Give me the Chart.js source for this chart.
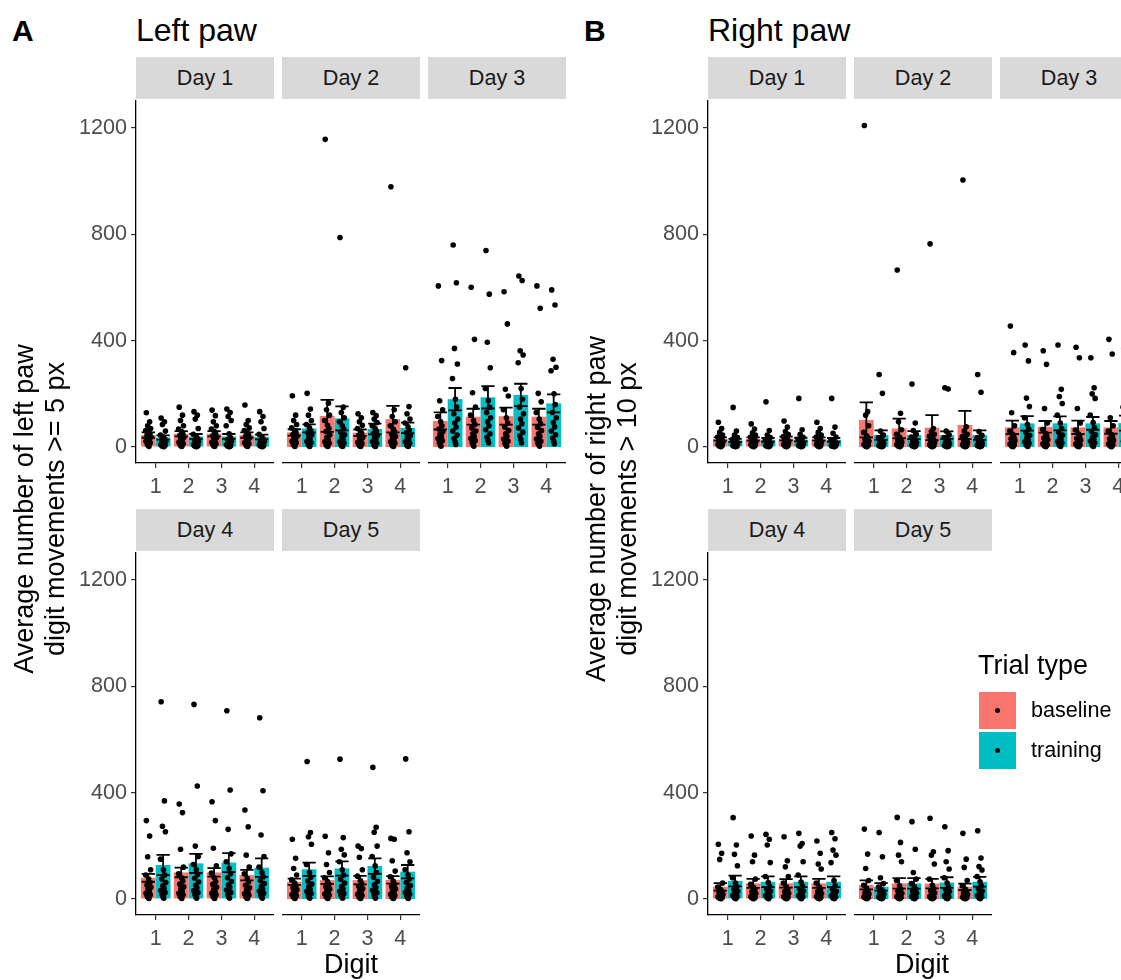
<!DOCTYPE html>
<html>
<head>
<meta charset="utf-8">
<script src="https://cdn.jsdelivr.net/npm/chart.js@4"></script>
<style>
  body { margin: 0; background: #fff; font-family: "Liberation Sans", Arial, sans-serif; }
  #page { position: relative; width: 1121px; height: 980px; overflow: hidden; background: #fff; }
  .t { position: absolute; white-space: nowrap; color: #000; }
  .strip { position: absolute; background: #d9d9d9; color: #1a1a1a; font-size: 21.6px; text-align: center; height: 42px; line-height: 42px; }
  canvas { position: absolute; }
</style>
</head>
<body>
<div id="page"></div>
<script>
const days = ['Day 1', 'Day 2', 'Day 3', 'Day 4', 'Day 5'];
const digits = [1, 2, 3, 4];
const trialTypes = ['baseline', 'training'];
const yTicks = [0, 400, 800, 1200];

// bar heights (mean) and error half-widths, [day][digit]
const leftBaseMean  = [[45,50,50,45],[55,117,54,105],[98,114,116,114],[80,100,100,90],[65,71,71,72]];
const leftTrainMean = [[36,40,40,38],[70,108,68,72],[180,187,196,164],[128,134,137,118],[112,115,124,103]];
const leftBaseErr   = [[10,10,10,10],[12,60,12,50],[32,30,32,30],[15,18,16,20],[12,14,16,14]];
const leftTrainErr  = [[8,9,9,9],[15,45,20,20],[42,42,42,34],[38,36,36,35],[25,27,29,25]];

const rightBaseMean  = [[30,30,32,30],[102,70,73,83],[74,76,74,74],[46,59,59,59],[53,59,58,46]];
const rightTrainMean = [[25,27,28,27],[45,45,45,45],[89,89,89,90],[68,65,65,65],[46,59,62,65]];
const rightBaseErr   = [[6,6,7,6],[66,37,47,53],[25,22,25,24],[14,17,16,17],[17,20,18,12]];
const rightTrainErr  = [[6,7,7,7],[18,15,14,18],[27,26,24,28],[20,20,20,20],[14,20,20,18]];

// individual animals, [day][digit][animal]
const leftBasePts = [
  [[129,95,80,70,62,55,50,44,38,33,28,22,16,10,6,2],
   [150,120,100,80,68,58,50,44,36,30,24,18,12,8,4,2],
   [139,118,95,80,68,58,50,42,36,30,24,18,12,8,4,2],
   [158,100,85,72,62,54,46,40,34,28,22,16,12,8,4,2]],
  [[193,120,100,85,72,62,55,48,40,34,28,22,16,10,5,2],
   [1157,165,140,120,100,82,70,58,46,36,28,20,14,8,4,2],
   [125,110,95,82,70,60,52,44,36,30,24,18,12,8,4,2],
   [979,140,115,95,80,68,58,48,40,32,26,20,14,8,4,2]],
  [[606,325,174,140,115,95,80,68,58,48,40,32,24,16,8,3],
   [601,405,204,150,120,100,85,72,60,50,40,32,24,16,8,3],
   [584,463,217,192,140,110,90,75,62,50,40,30,22,14,8,3],
   [606,522,202,170,130,105,88,74,62,50,40,30,22,14,8,3]],
  [[295,237,159,110,90,75,62,52,44,36,28,22,16,10,5,2],
   [357,325,187,120,95,80,68,56,46,38,30,22,16,10,5,2],
   [366,295,191,125,98,80,66,55,45,36,28,22,16,10,5,2],
   [335,272,165,120,95,78,64,52,42,34,26,20,14,8,4,2]],
  [[225,153,115,90,72,60,50,42,35,28,22,17,12,8,4,2],
   [236,174,130,100,80,66,55,46,38,31,25,19,14,9,5,2],
   [199,190,157,110,86,70,58,48,39,31,24,18,13,8,4,2],
   [228,225,144,105,84,68,56,46,38,30,24,18,13,8,4,2]]
];
const leftTrainPts = [
  [[109,95,85,60,45,38,30,25,20,16,12,9,6,4,2,1],
   [133,120,105,70,48,40,32,26,20,15,11,8,5,3,2,1],
   [143,130,115,100,80,50,36,28,22,16,12,8,5,3,2,1],
   [133,115,95,70,48,38,30,24,20,15,11,8,5,3,2,1]],
  [[202,143,120,100,85,72,62,54,46,38,30,22,16,10,5,2],
   [788,150,130,110,95,80,68,56,46,36,28,20,14,8,4,2],
   [130,118,105,92,80,70,60,52,44,36,28,20,14,8,4,2],
   [298,152,125,105,90,76,64,54,44,36,28,20,14,8,4,2]],
  [[760,618,371,312,258,180,150,125,105,90,75,60,45,32,20,10],
   [739,575,394,298,220,175,150,130,110,95,80,65,50,38,25,15],
   [643,626,362,346,317,220,180,150,125,105,88,72,56,42,28,15],
   [591,534,330,300,287,200,160,130,110,92,76,60,46,34,22,12]],
  [[742,369,274,253,150,110,90,75,62,50,40,32,24,16,8,3],
   [732,425,199,160,130,110,92,78,64,52,42,32,24,16,8,3],
   [708,410,262,170,140,115,95,80,66,54,44,34,25,16,8,3],
   [682,407,241,160,120,100,84,70,58,48,38,30,22,14,7,3]],
  [[517,250,234,206,130,100,82,68,56,46,37,29,21,14,7,3],
   [526,231,187,166,140,110,90,74,60,48,38,29,21,14,7,3],
   [495,270,251,199,160,125,100,82,67,54,43,33,24,16,8,3],
   [527,253,174,140,110,90,75,62,51,41,33,25,18,12,6,2]]
];
const rightBasePts = [
  [[93,70,55,45,38,32,27,23,19,15,12,9,6,4,2,1],
   [87,68,54,45,38,32,27,23,19,15,12,9,6,4,2,1],
   [98,75,58,47,39,33,28,23,19,15,12,9,6,4,2,1],
   [93,70,55,45,38,32,27,23,19,15,12,9,6,4,2,1]],
  [[1209,133,120,80,55,42,34,28,22,17,13,10,7,4,2,1],
   [666,127,95,65,48,38,30,24,19,15,12,9,6,4,2,1],
   [764,70,58,48,40,33,27,22,18,14,11,8,6,4,2,1],
   [1004,76,60,48,39,32,26,21,17,13,10,8,5,3,2,1]],
  [[455,355,129,80,60,48,38,31,25,20,15,11,8,5,3,1],
   [362,311,145,90,66,52,42,34,27,21,16,12,8,5,3,1],
   [375,336,145,90,64,50,40,32,26,20,15,11,8,5,3,1],
   [405,350,110,80,60,48,38,31,25,20,15,11,8,5,3,1]],
  [[206,172,149,60,45,36,29,23,18,14,11,8,6,4,2,1],
   [237,165,140,75,55,43,34,27,21,16,12,9,6,4,2,1],
   [234,144,121,85,60,46,36,28,22,17,13,9,6,4,2,1],
   [218,172,132,113,60,45,35,27,21,16,12,9,6,4,2,1]],
  [[263,169,115,70,52,40,31,24,19,15,11,8,6,4,2,1],
   [307,213,165,140,70,50,38,29,22,17,13,9,6,4,2,1],
   [304,178,165,132,75,52,39,30,23,17,13,9,6,4,2,1],
   [247,150,119,70,50,38,29,22,17,13,10,7,5,3,2,1]]
];
const rightTrainPts = [
  [[149,60,45,36,29,24,20,16,13,10,8,6,4,3,2,1],
   [170,62,45,36,28,23,19,15,12,10,8,6,4,3,2,1],
   [183,65,48,37,29,23,19,15,12,10,8,6,4,3,2,1],
   [183,75,52,38,28,22,18,14,11,9,7,5,4,3,2,1]],
  [[273,202,60,45,36,29,23,18,14,11,8,6,4,3,2,1],
   [237,90,62,48,38,31,25,20,16,12,9,7,5,3,2,1],
   [223,218,60,46,36,29,23,18,14,11,8,6,4,3,2,1],
   [273,206,58,44,35,28,22,17,13,10,8,6,4,3,2,1]],
  [[384,324,184,152,110,85,68,55,44,35,27,20,14,9,5,2],
   [384,217,190,164,120,90,70,56,45,36,28,21,15,9,5,2],
   [336,223,200,183,120,92,72,58,46,37,29,22,15,9,5,2],
   [369,267,227,200,150,100,75,60,48,38,30,22,15,9,5,2]],
  [[306,203,168,125,80,60,47,37,29,22,17,13,9,6,3,1],
   [243,225,203,137,85,62,48,38,30,23,18,13,9,6,3,1],
   [247,209,199,140,90,64,49,38,30,23,18,13,9,6,3,1],
   [250,227,184,165,137,70,50,38,29,22,17,12,8,5,3,1]],
  [[250,159,80,58,45,36,29,23,18,14,11,8,6,4,2,1],
   [291,187,100,75,58,46,37,29,23,18,14,10,7,4,2,1],
   [272,182,140,113,80,60,46,36,28,21,16,12,8,5,3,1],
   [257,154,122,109,85,65,50,39,30,23,18,13,9,6,3,1]]
];

const paws = {
  left:  { bMean: leftBaseMean, tMean: leftTrainMean, bErr: leftBaseErr, tErr: leftTrainErr, bPts: leftBasePts, tPts: leftTrainPts },
  right: { bMean: rightBaseMean, tMean: rightTrainMean, bErr: rightBaseErr, tErr: rightTrainErr, bPts: rightBasePts, tPts: rightTrainPts }
};

const colors = ['#F8766D', '#00BFC4'];
// fixed horizontal spread of the dots around each bar (digit units)
const jitter = [-0.06, 0.04, -0.02, 0.07, -0.08, 0.01, 0.05, -0.04, 0.08, -0.01, 0.03, -0.07, 0.06, -0.03, 0.0, 0.02];

Chart.defaults.font.family = '"Liberation Sans", Arial, sans-serif';

const page = document.getElementById('page');
const panelW = 138, panelStep = 146, plotH = 363, yAxisW = 70, xAxisH = 46;
const rowTop = [100, 552];
const axisX = { left: 136, right: 708 };
const cell = [[0, 0], [0, 1], [0, 2], [1, 0], [1, 1]];

function addText(txt, css) {
  const el = document.createElement('div');
  el.className = 't';
  el.innerHTML = txt;
  Object.assign(el.style, css);
  page.appendChild(el);
  return el;
}

const errorBars = {
  id: 'errorBars',
  afterDatasetsDraw(chart) {
    const ctx = chart.ctx, ys = chart.scales.y;
    ctx.save();
    ctx.strokeStyle = '#000';
    ctx.lineWidth = 1.8;
    chart.data.datasets.forEach((ds, i) => {
      if (!ds.errors) return;
      chart.getDatasetMeta(i).data.forEach((el, j) => {
        const m = ds.data[j].y, e = ds.errors[j];
        const hi = ys.getPixelForValue(m + e), lo = ys.getPixelForValue(m - e);
        const hw = el.width * 0.45;
        ctx.beginPath();
        ctx.moveTo(el.x, hi); ctx.lineTo(el.x, lo);
        ctx.moveTo(el.x - hw, hi); ctx.lineTo(el.x + hw, hi);
        ctx.moveTo(el.x - hw, lo); ctx.lineTo(el.x + hw, lo);
        ctx.stroke();
      });
    });
    ctx.restore();
  }
};

function noPad(s) {
  s.paddingTop = 0; s.paddingBottom = 0; s.paddingLeft = 0; s.paddingRight = 0;
}

function makePanel(paw, d) {
  const [r, c] = cell[d];
  const left = axisX[paw] + c * panelStep;
  const top = rowTop[r];
  const yW = c === 0 ? yAxisW : 0;

  const strip = document.createElement('div');
  strip.className = 'strip';
  Object.assign(strip.style, { left: left + 'px', top: (top - 43) + 'px', width: panelW + 'px' });
  strip.textContent = days[d];
  page.appendChild(strip);

  const cv = document.createElement('canvas');
  cv.width = panelW + yW;
  cv.height = plotH + xAxisH;
  cv.style.left = (left - yW) + 'px';
  cv.style.top = top + 'px';
  page.appendChild(cv);

  const P = paws[paw];
  const means = [P.bMean[d], P.tMean[d]];
  const errs = [P.bErr[d], P.tErr[d]];
  const pts = [P.bPts[d], P.tPts[d]];
  const datasets = [];
  trialTypes.forEach((tt, t) => {
    datasets.push({
      type: 'bar', label: tt,
      data: digits.map((g, i) => ({ x: g, y: means[t][i] })),
      errors: errs[t],
      backgroundColor: colors[t],
      categoryPercentage: 0.9, barPercentage: 1,
      order: 2
    });
  });
  trialTypes.forEach((tt, t) => {
    const data = [];
    digits.forEach((g, i) => {
      pts[t][i].forEach((v, k) => data.push({ x: g + (t ? 0.225 : -0.225) + jitter[k % jitter.length], y: v }));
    });
    datasets.push({
      type: 'scatter', label: tt + ' animals', data,
      pointRadius: 2.8, pointBackgroundColor: '#000', pointBorderWidth: 0,
      order: 0
    });
  });

  new Chart(cv.getContext('2d'), {
    type: 'bar',
    data: { datasets },
    options: {
      responsive: false,
      animation: false,
      events: [],
      layout: { padding: 0, autoPadding: false },
      plugins: { legend: { display: false }, tooltip: { enabled: false } },
      scales: {
        x: {
          type: 'linear', min: 0.4, max: 4.6, offset: false,
          afterBuildTicks: s => { s.ticks = digits.map(v => ({ value: v })); },
          afterFit: s => { s.height = xAxisH; noPad(s); },
          grid: { display: true, offset: false, drawOnChartArea: false, drawTicks: true, tickLength: 5, color: '#333', lineWidth: 1.2 },
          border: { display: true, color: '#000', width: 1.3 },
          ticks: { color: '#4d4d4d', font: { size: 21.6 }, padding: 6, autoSkip: false, maxRotation: 0, callback: v => String(v) }
        },
        y: {
          type: 'linear', min: -60, max: 1305,
          display: c === 0,
          afterBuildTicks: s => { s.ticks = yTicks.map(v => ({ value: v })); },
          afterFit: s => { s.width = yW; noPad(s); },
          grid: { display: true, drawOnChartArea: false, drawTicks: true, tickLength: 5, color: '#333', lineWidth: 1.2 },
          border: { display: true, color: '#000', width: 1.3 },
          ticks: { color: '#4d4d4d', font: { size: 21.6 }, padding: 4, callback: v => String(v) }
        }
      }
    },
    plugins: [errorBars]
  });
}

['left', 'right'].forEach(paw => days.forEach((_, d) => makePanel(paw, d)));

// panel labels and titles
addText('A', { left: '12px', top: '13px', fontSize: '30px', fontWeight: 'bold', lineHeight: '36px' });
addText('Left paw', { left: '136px', top: '11px', fontSize: '32px', lineHeight: '38px' });
addText('B', { left: '584px', top: '13px', fontSize: '30px', fontWeight: 'bold', lineHeight: '36px' });
addText('Right paw', { left: '708px', top: '11px', fontSize: '32px', lineHeight: '38px' });

// x axis titles
addText('Digit', { left: (351 - 100) + 'px', width: '200px', textAlign: 'center', top: '948px', fontSize: '27px', lineHeight: '32px' });
addText('Digit', { left: (922 - 100) + 'px', width: '200px', textAlign: 'center', top: '948px', fontSize: '27px', lineHeight: '32px' });

// y axis titles (rotated)
function yTitle(lines, cx) {
  const w = 600, h = 62;
  addText(lines.join('<br>'), {
    left: (cx - w / 2) + 'px', top: (509 - h / 2) + 'px', width: w + 'px', height: h + 'px',
    textAlign: 'center', fontSize: '27px', lineHeight: '31px', transform: 'rotate(-90deg)'
  });
}
yTitle(['Average number of left paw', 'digit movements &gt;= 5 px'], 40);
yTitle(['Average number of right paw', 'digit movements &gt; 10 px'], 612);

// legend
addText('Trial type', { left: '978px', top: '649px', fontSize: '27px', lineHeight: '32px' });
trialTypes.forEach((tt, t) => {
  const y = 692 + t * 40;
  const key = document.createElement('div');
  Object.assign(key.style, { position: 'absolute', left: '979px', top: y + 'px', width: '37px', height: '37px', background: colors[t] });
  const dot = document.createElement('div');
  Object.assign(dot.style, { position: 'absolute', left: '16px', top: '16px', width: '5px', height: '5px', borderRadius: '50%', background: '#000' });
  key.appendChild(dot);
  page.appendChild(key);
  addText(tt, { left: '1031px', top: (y + 5) + 'px', fontSize: '21.6px', lineHeight: '26px' });
});
</script>
</body>
</html>
